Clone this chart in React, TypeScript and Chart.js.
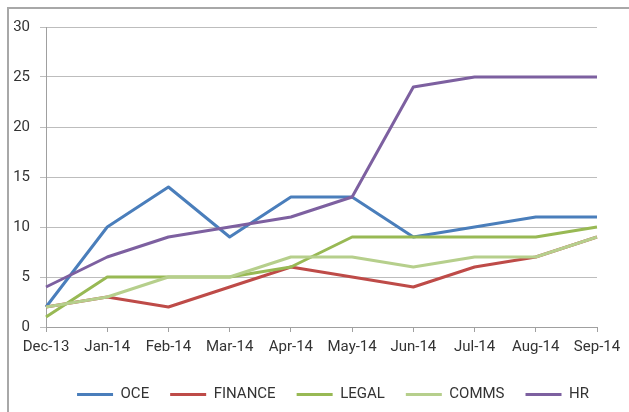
import React, { useEffect, useRef } from "react";
import { Chart, registerables } from "chart.js";

Chart.register(...registerables);

const categories = ["Dec-13", "Jan-14", "Feb-14", "Mar-14", "Apr-14", "May-14", "Jun-14", "Jul-14", "Aug-14", "Sep-14"];
const oce = [2, 10, 14, 9, 13, 13, 9, 10, 11, 11];
const finance = [2, 3, 2, 4, 6, 5, 4, 6, 7, 9];
const legal = [1, 5, 5, 5, 6, 9, 9, 9, 9, 10];
const comms = [2, 3, 5, 5, 7, 7, 6, 7, 7, 9];
const hr = [4, 7, 9, 10, 11, 13, 24, 25, 25, 25];
const seriesNames = ["OCE", "FINANCE", "LEGAL", "COMMS", "HR"];
const seriesColors = ["#4a7ebb", "#be4b48", "#98b954", "#b6cf8c", "#7d60a0"];
const yTicks = { min: 0, max: 30, step: 5 };

const FONT = "Roboto";
const TEXT = "#333333";

const legendShift = {
  id: "legendShift",
  afterLayout(chart: any) {
    const lg = chart.legend;
    if (!lg) return;
    const w = lg.right - lg.left;
    lg.left = 333 - w / 2;
    lg.right = lg.left + w;
  },
};

export default function App() {
  const ref = useRef<HTMLCanvasElement | null>(null);
  useEffect(() => {
    if (!ref.current) return;
    const values = [oce, finance, legal, comms, hr];
    const chart = new Chart(ref.current, {
      type: "line",
      data: {
        labels: categories,
        datasets: values.map((v, i) => ({
          label: seriesNames[i],
          data: v,
          borderColor: seriesColors[i],
          backgroundColor: seriesColors[i],
          borderWidth: 3,
          pointRadius: 0,
          tension: 0,
          fill: false,
          order: values.length - i,
          borderJoinStyle: "round" as const,
        })),
      },
      options: {
        responsive: false,
        animation: false,
        devicePixelRatio: 1,
        layout: { padding: { left: 10, top: 27, right: 32, bottom: 0 } },
        scales: {
          x: {
            offset: false,
            grid: { drawOnChartArea: false, drawTicks: true, tickLength: 5, color: "#a0a0a0" },
            border: { color: "#a0a0a0", width: 1 },
            ticks: { font: { family: FONT, size: 15 }, color: TEXT, padding: 6, maxRotation: 0, autoSkip: false },
            afterFit: (s: any) => { s.height = 39; },
          },
          y: {
            min: yTicks.min,
            max: yTicks.max,
            grid: { color: "#bdbdbd", tickLength: 6, lineWidth: 1 },
            border: { color: "#a0a0a0", width: 1 },
            ticks: { stepSize: yTicks.step, font: { family: FONT, size: 15 }, color: TEXT, padding: 10 },
            afterFit: (s: any) => { s.width = 36; },
          },
        },
        plugins: {
          tooltip: { enabled: false },
          legend: {
            position: "bottom",
            labels: {
              boxWidth: 36,
              boxHeight: 3,
              padding: 21,
              color: TEXT,
              font: { family: FONT, size: 15 },
              sort: (a: any, b: any) => a.datasetIndex - b.datasetIndex,
              generateLabels: (c: any) =>
                (Chart.defaults.plugins.legend.labels.generateLabels as any)(c).map((l: any) => ({
                  ...l,
                  lineWidth: 0,
                  fillStyle: seriesColors[l.datasetIndex],
                })),
            },
          },
        },
      },
      plugins: [legendShift],
    } as any);
    return () => chart.destroy();
  }, []);
  return (
    <div style={{ position: "fixed", left: 0, top: 0, width: 629, height: 412, overflow: "hidden", background: "#fff" }}>
      <div
        style={{
          position: "absolute",
          left: 7,
          top: 7,
          width: 640,
          height: 420,
          borderTop: "2px solid #a8a8a8",
          borderLeft: "2px solid #a8a8a8",
        }}
      />
      <canvas ref={ref} width={629} height={412} style={{ position: "absolute", left: 0, top: 0, display: "block" }} />
    </div>
  );
}
